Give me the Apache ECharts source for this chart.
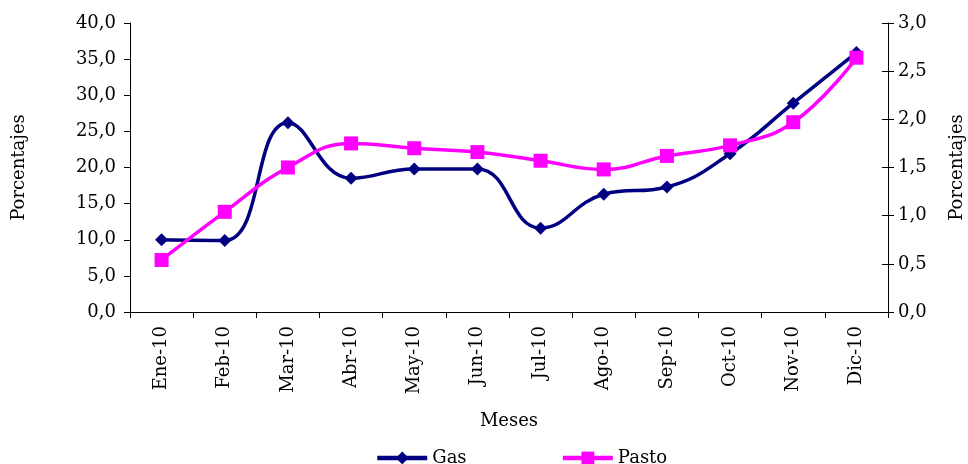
<!DOCTYPE html>
<html><head><meta charset="utf-8">
<script src="https://cdn.jsdelivr.net/npm/echarts@6/dist/echarts.min.js"></script>
<style>html,body{margin:0;padding:0;background:#fff}#c{width:968px;height:464px}</style>
</head><body><div id="c"></div>
<script>
const categories = ['Ene-10','Feb-10','Mar-10','Abr-10','May-10','Jun-10','Jul-10','Ago-10','Sep-10','Oct-10','Nov-10','Dic-10'];
const gas = [10.0, 9.9, 26.2, 18.5, 19.8, 19.8, 11.6, 16.3, 17.3, 21.9, 28.9, 35.9];
const pasto = [0.54, 1.04, 1.50, 1.75, 1.70, 1.66, 1.57, 1.48, 1.62, 1.73, 1.97, 2.64];
const leftTicks = {min: 0, max: 40, interval: 5};
const rightTicks = {min: 0, max: 3, interval: 0.5};

const F = 'DejaVu Serif';
const fmt = v => v.toFixed(1).replace('.', ',');
const chart = echarts.init(document.getElementById('c'));
chart.setOption({
  animation: false,
  grid: {left: 130, right: 80, top: 23, bottom: 152, containLabel: false, outerBoundsMode: 'none'},
  legend: {
    top: 444, left: 370, itemWidth: 50, itemHeight: 16, itemGap: 94,
    lineStyle: {width: 4.5},
    textStyle: {fontFamily: F, fontSize: 18, color: '#000'},
    data: ['Gas', 'Pasto']
  },
  xAxis: {
    type: 'category', data: categories, boundaryGap: true,
    name: 'Meses', nameLocation: 'middle', nameGap: 100,
    nameTextStyle: {fontFamily: F, fontSize: 18, color: '#000'},
    axisLine: {lineStyle: {color: '#000', width: 1}},
    axisTick: {show: true, alignWithLabel: false, length: 6, lineStyle: {color: '#000'}},
    axisLabel: {rotate: 90, fontFamily: F, fontSize: 18, color: '#000', margin: 14}
  },
  yAxis: [
    {
      type: 'value', position: 'left', min: leftTicks.min, max: leftTicks.max, interval: leftTicks.interval,
      name: 'Porcentajes', nameLocation: 'middle', nameGap: 102, nameRotate: 90,
      nameTextStyle: {fontFamily: F, fontSize: 18, color: '#000'},
      axisLine: {show: true, lineStyle: {color: '#000'}},
      axisTick: {show: true, length: 6, lineStyle: {color: '#000'}},
      splitLine: {show: false},
      axisLabel: {fontFamily: F, fontSize: 18, color: '#000', formatter: fmt, margin: 14}
    },
    {
      type: 'value', position: 'right', min: rightTicks.min, max: rightTicks.max, interval: rightTicks.interval,
      name: 'Porcentajes', nameLocation: 'middle', nameGap: 60, nameRotate: 90,
      nameTextStyle: {fontFamily: F, fontSize: 18, color: '#000'},
      axisLine: {show: true, lineStyle: {color: '#000'}},
      axisTick: {show: true, length: 6, lineStyle: {color: '#000'}},
      splitLine: {show: false},
      axisLabel: {fontFamily: F, fontSize: 18, color: '#000', formatter: fmt, margin: 10}
    },
    {
      type: 'value', position: 'right', min: rightTicks.min, max: rightTicks.max, interval: rightTicks.interval,
      axisLine: {show: false},
      axisTick: {show: true, inside: true, length: 6, lineStyle: {color: '#000'}},
      splitLine: {show: false},
      axisLabel: {show: false}
    }
  ],
  series: [
    {
      name: 'Gas', type: 'line', yAxisIndex: 0, data: gas, smooth: 0.45,
      symbol: 'diamond', symbolSize: 13,
      lineStyle: {color: '#000080', width: 3.5}, itemStyle: {color: '#000080'}
    },
    {
      name: 'Pasto', type: 'line', yAxisIndex: 1, data: pasto, smooth: 0.45,
      symbol: 'rect', symbolSize: 14,
      lineStyle: {color: '#FF00FF', width: 3.5}, itemStyle: {color: '#FF00FF'}
    }
  ]
});
</script></body></html>
